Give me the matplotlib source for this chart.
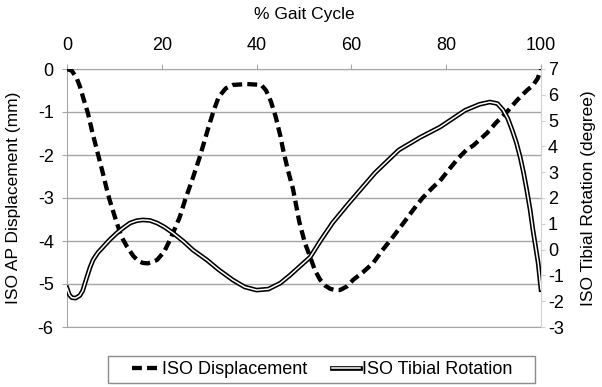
import matplotlib.pyplot as plt
from matplotlib.lines import Line2D
from matplotlib.patches import Rectangle

plt.rcParams['font.family'] = ['Liberation Sans', 'DejaVu Sans']

# ISO AP displacement (mm)
disp_x = [0, 1, 2, 2.7, 3.5, 4.4, 5.3, 6.3, 7.4, 8.4, 9, 10.5, 11.5, 12.7,
          14, 15, 16, 17, 18, 19, 20.5, 21.7, 23, 23.8, 24.9, 26.5, 28, 30,
          31, 32, 33.5, 35, 38, 41, 42, 43, 44, 45, 45.6, 46.6, 47.7, 49,
          50.2, 51.3, 52.3, 53.4, 54.5, 55.5, 56.5, 57.6, 59, 60.4, 62.5,
          64.6, 66.5, 68.8, 71, 73, 75, 77.2, 78.7, 80.5, 82.5, 84.3, 85.7,
          88.6, 90.5, 92.8, 95, 97, 98.3, 99.3, 100]
disp_y = [0, -0.04, -0.2, -0.4, -0.7, -1.02, -1.45, -1.88, -2.35, -2.8,
          -3.05, -3.58, -3.9, -4.14, -4.35, -4.46, -4.51, -4.52, -4.49, -4.44,
          -4.25, -3.98, -3.65, -3.44, -3.05, -2.55, -2.05, -1.3, -0.95, -0.65,
          -0.45, -0.37, -0.35, -0.37, -0.5, -0.75, -1.1, -1.55, -1.88, -2.35,
          -2.8, -3.55, -4.05, -4.37, -4.68, -4.9, -5.04, -5.11, -5.14, -5.14,
          -5.06, -4.9, -4.72, -4.51, -4.22, -3.9, -3.58, -3.28, -3.0, -2.75,
          -2.6, -2.35, -2.08, -1.88, -1.78, -1.49, -1.25, -1.0, -0.72, -0.5,
          -0.38, -0.22, 0]

# ISO tibial rotation (degree)
rot_x = [0, 0.5, 1, 1.8, 2.7, 3.3, 3.8, 4.4, 4.9, 5.5, 6.5, 7.6, 9, 10.5,
         12, 13.3, 14.7, 16, 17.5, 19, 20.5, 22.4, 24.5, 26.6, 29.5, 32, 35,
         37.5, 40, 42.5, 45, 47, 49, 51.3, 53.5, 56, 59, 61.8, 65, 70, 74.5,
         78.7, 84, 87, 89.2, 90.8, 92, 93, 93.9, 94.8, 95.6, 96.3, 97, 97.7,
         98.3, 99, 99.4, 100]
rot_y = [-1.49, -1.75, -1.86, -1.88, -1.78, -1.6, -1.3, -0.95, -0.67, -0.4,
         -0.12, 0.1, 0.38, 0.64, 0.86, 1.03, 1.12, 1.15, 1.13, 1.03, 0.88,
         0.64, 0.33, -0.02, -0.4, -0.78, -1.18, -1.45, -1.57, -1.53, -1.3,
         -1.0, -0.67, -0.29, 0.35, 1.03, 1.7, 2.3, 2.98, 3.86, 4.35, 4.75,
         5.4, 5.63, 5.72, 5.66, 5.41, 5.08, 4.64, 4.15, 3.59, 3.0, 2.31, 1.55,
         0.76, -0.05, -0.52, -1.55]

x_ticks = [0, 20, 40, 60, 80, 100]
left_ticks = [0, -1, -2, -3, -4, -5, -6]
right_ticks = [7, 6, 5, 4, 3, 2, 1, 0, -1, -2, -3]

fig = plt.figure(figsize=(6.02, 3.87), dpi=100)
ax = fig.add_axes([67 / 602, 1 - 327 / 387, 474 / 602, 258 / 387])
ax2 = ax.twinx()

grid_c = '#a6a6a6'
fs = 13
ax.set_xlim(0, 100)
ax.set_ylim(-6, 0)
ax.set_yticks(left_ticks)
ax.set_yticklabels([str(v) for v in left_ticks])
ax.set_xticks(x_ticks)
ax.xaxis.tick_top()
ax.set_xlabel('% Gait Cycle', fontsize=12.5)
ax.xaxis.set_label_position('top')
ax.xaxis.set_label_coords(0.5, (327 - 14) / 258)
ax.xaxis.label.set_va('center')
ax.set_ylabel('ISO AP Displacement (mm)', fontsize=12.5)
ax.yaxis.set_label_coords(-53 / 474, 0.5)
ax.yaxis.label.set_va('center')
ax.grid(axis='y', color=grid_c, linewidth=1)
ax.tick_params(axis='y', labelsize=fs, color=grid_c, length=3.6, pad=6)
ax.tick_params(axis='x', labelsize=fs, color=grid_c, length=3.6, pad=7)
for s in ['left', 'top', 'bottom']:
    ax.spines[s].set_color(grid_c)
ax.spines['right'].set_visible(False)

ax.plot(disp_x, disp_y, color='black', linewidth=3.1,
        linestyle=(0, (2.3, 1.2)), zorder=3)

ax2.set_ylim(-3, 7)
ax2.set_yticks(right_ticks)
ax2.set_yticklabels([str(v) for v in right_ticks])
ax2.set_ylabel('ISO Tibial Rotation (degree)', fontsize=12.5, rotation=90)
ax2.yaxis.set_label_coords(521 / 474, 0.5)
ax2.yaxis.label.set_va('center')
ax2.tick_params(axis='y', labelsize=fs, color='#d0d0d0', length=3, pad=2)
for s in ['left', 'top', 'bottom']:
    ax2.spines[s].set_visible(False)
ax2.spines['right'].set_color('#d0d0d0')

ax2.plot(rot_x, rot_y, color='black', linewidth=3.4, zorder=3)
ax2.plot(rot_x, rot_y, color='white', linewidth=1.1, zorder=4)

h1 = Line2D([], [], color='black', linewidth=3.1, linestyle=(0, (2.3, 1.2)))
h2a = Line2D([], [], color='black', linewidth=3.4)
h2b = Line2D([], [], color='white', linewidth=1.1)
fig.legend([h1, (h2a, h2b)], ['ISO Displacement', 'ISO Tibial Rotation'],
           loc='center', bbox_to_anchor=(322 / 602, 1 - 370 / 387), ncol=2,
           fontsize=fs, frameon=False, handlelength=1.55,
           handletextpad=0.1, columnspacing=1.4, borderpad=0.1)
fig.add_artist(Rectangle((108 / 602, 1 - 383 / 387), 427 / 602, 27 / 387,
                         transform=fig.transFigure, fill=False,
                         edgecolor='#8c8c8c', linewidth=1))

fig.savefig('out.png', dpi=100)
